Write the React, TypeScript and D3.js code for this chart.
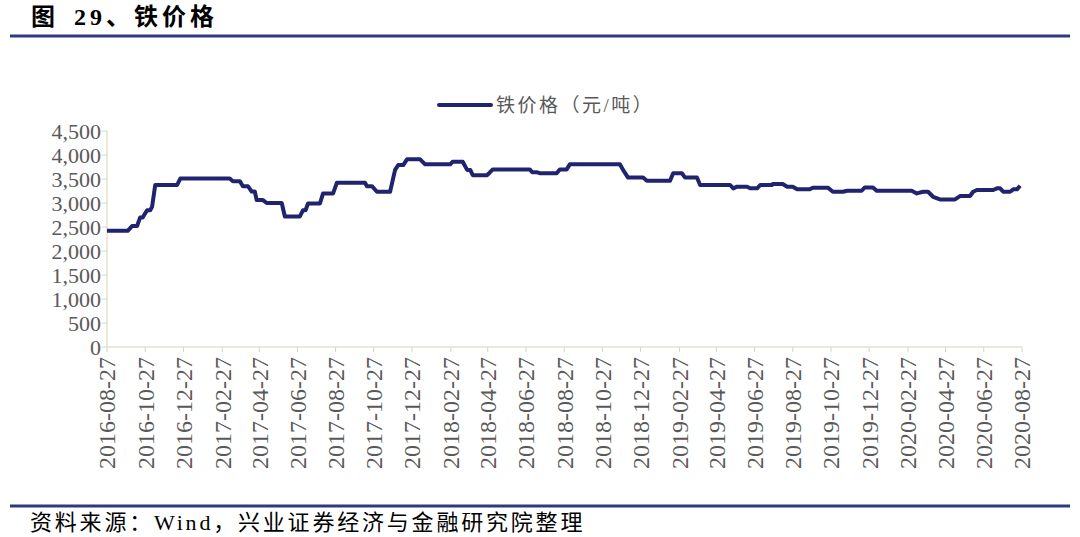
import React from "react";
import * as d3 from "d3";

const dates: string[] = [
  "2016-08-27","2016-09-29","2016-10-06","2016-10-14","2016-10-19","2016-10-23","2016-10-30","2016-11-04","2016-11-07","2016-11-12",
  "2016-12-17","2016-12-22","2017-03-11","2017-03-16","2017-03-27","2017-04-01","2017-04-09","2017-04-15","2017-04-20","2017-04-23",
  "2017-05-03","2017-05-09","2017-06-02","2017-06-07","2017-07-01","2017-07-06","2017-07-10","2017-07-14","2017-08-02","2017-08-07",
  "2017-08-23","2017-08-29","2017-10-13","2017-10-16","2017-10-24","2017-11-01","2017-11-22","2017-11-30","2017-12-05","2017-12-13",
  "2017-12-19","2018-01-09","2018-01-17","2018-02-26","2018-03-02","2018-03-18","2018-03-25","2018-03-30","2018-04-03","2018-04-26",
  "2018-05-05","2018-07-03","2018-07-07","2018-07-15","2018-07-19","2018-08-15","2018-08-20","2018-08-31","2018-09-05","2018-11-24",
  "2018-11-29","2018-12-07","2018-12-31","2019-01-06","2019-02-12","2019-02-17","2019-03-03","2019-03-08","2019-03-27","2019-04-01",
  "2019-05-19","2019-05-24","2019-05-30","2019-06-15","2019-06-20","2019-07-01","2019-07-06","2019-07-25","2019-07-26","2019-08-11",
  "2019-08-18","2019-08-27","2019-09-03","2019-09-23","2019-09-28","2019-10-22","2019-10-30","2019-11-15","2019-11-22","2019-12-15",
  "2019-12-20","2020-01-02","2020-01-08","2020-03-04","2020-03-12","2020-03-22","2020-03-30","2020-04-07","2020-04-18","2020-05-12",
  "2020-05-20","2020-06-05","2020-06-10","2020-06-16","2020-07-12","2020-07-18","2020-07-23","2020-07-28","2020-08-08","2020-08-13",
  "2020-08-19","2020-08-24"
];

const ironPrice: number[] = [
  2420,2420,2520,2520,2700,2700,2850,2850,2920,3375,
  3375,3510,3510,3455,3455,3350,3350,3240,3240,3060,
  3060,3000,3000,2720,2720,2850,2850,2990,2990,3200,
  3200,3420,3420,3350,3350,3235,3235,3690,3790,3790,
  3910,3910,3805,3805,3860,3860,3690,3690,3580,3580,
  3700,3700,3640,3640,3620,3620,3700,3700,3805,3805,
  3690,3530,3530,3465,3465,3620,3620,3530,3530,3375,
  3375,3305,3340,3340,3305,3305,3375,3375,3395,3395,
  3340,3340,3285,3285,3320,3320,3235,3235,3255,3255,
  3325,3325,3255,3255,3200,3235,3235,3130,3075,3075,
  3145,3145,3235,3270,3270,3305,3305,3235,3235,3285,
  3285,3360
];

const xTickLabels: string[] = [
  "2016-08-27","2016-10-27","2016-12-27","2017-02-27","2017-04-27","2017-06-27","2017-08-27","2017-10-27",
  "2017-12-27","2018-02-27","2018-04-27","2018-06-27","2018-08-27","2018-10-27","2018-12-27","2019-02-27",
  "2019-04-27","2019-06-27","2019-08-27","2019-10-27","2019-12-27","2020-02-27","2020-04-27","2020-06-27","2020-08-27"
];

const yTicks: number[] = [0, 500, 1000, 1500, 2000, 2500, 3000, 3500, 4000, 4500];

const titleLead = "图";
const titleRest = "29、铁价格";
const legendText = "铁价格（元/吨）";
const sourceText = "资料来源：Wind，兴业证券经济与金融研究院整理";

const W = 1080;
const H = 537;
const left = 107;
const right = 1022;
const top = 131;
const bottom = 347;

const LINE = "#20236e";
const AXIS = "#d8d3bb";
const TEXT = "#595959";
const RULE = "#2f3a7e";
const SERIF = "'Liberation Serif', 'Times New Roman', 'Noto Sans CJK SC', serif";
const CJK = "'Liberation Serif', 'Noto Sans CJK SC', sans-serif";

export default function App() {
  const parse = d3.timeParse("%Y-%m-%d");
  const x = d3
    .scaleTime()
    .domain([parse("2016-08-27") as Date, parse("2020-08-27") as Date])
    .range([left, right]);
  const y = d3.scaleLinear().domain([0, 4500]).range([bottom, top]);
  const pts = dates.map((d, i) => ({ d: parse(d) as Date, v: ironPrice[i] }));
  const line = d3
    .line<{ d: Date; v: number }>()
    .x((p) => x(p.d))
    .y((p) => y(p.v))
    .curve(d3.curveLinear);
  const fmt = d3.format(",");

  return (
    <svg
      width={W}
      height={H}
      style={{ position: "absolute", left: 0, top: 0, background: "#fff" }}
    >
      <text y={25} fontFamily={CJK} fontWeight="bold" fontSize={24} fill="#000">
        <tspan x={31}>{titleLead}</tspan>
        <tspan x={74} letterSpacing={4}>{titleRest}</tspan>
      </text>
      <line x1={10} x2={1070} y1={36} y2={36} stroke={RULE} strokeWidth={3} />

      {/* legend */}
      <line x1={439} x2={491} y1={105} y2={105} stroke={LINE} strokeWidth={4} strokeLinecap="round" />
      <text x={496} y={111.5} fontFamily={CJK} fontSize={19} fill={TEXT} letterSpacing={2.5}>
        {legendText}
      </text>

      {/* y axis */}
      <line x1={left} x2={left} y1={top} y2={bottom} stroke={AXIS} strokeWidth={1} />
      {yTicks.map((t) => (
        <g key={t}>
          <line x1={left - 5} x2={left} y1={y(t)} y2={y(t)} stroke={AXIS} />
          <text
            x={left - 6}
            y={y(t)}
            dy="0.35em"
            textAnchor="end"
            fontFamily={SERIF}
            fontSize={22}
            fill={TEXT}
          >
            {fmt(t)}
          </text>
        </g>
      ))}

      {/* x axis */}
      <line x1={left} x2={right} y1={bottom} y2={bottom} stroke={AXIS} strokeWidth={1} />
      {xTickLabels.map((lab) => {
        const px = x(parse(lab) as Date);
        return (
          <g key={lab}>
            <line x1={px} x2={px} y1={bottom} y2={bottom + 5} stroke={AXIS} />
            <text
              transform={`translate(${px},${bottom + 10}) rotate(-90)`}
              dy="0.35em"
              textAnchor="end"
              fontFamily={SERIF}
              fontSize={24}
              fill={TEXT}
            >
              {lab}
            </text>
          </g>
        );
      })}

      <path d={line(pts) || ""} fill="none" stroke={LINE} strokeWidth={4} strokeLinejoin="round" />

      <line x1={10} x2={1070} y1={506} y2={506} stroke={RULE} strokeWidth={3} />
      <text x={30} y={530} fontFamily={CJK} fontSize={22} fill="#000" letterSpacing={2.8}>
        {sourceText}
      </text>
    </svg>
  );
}
